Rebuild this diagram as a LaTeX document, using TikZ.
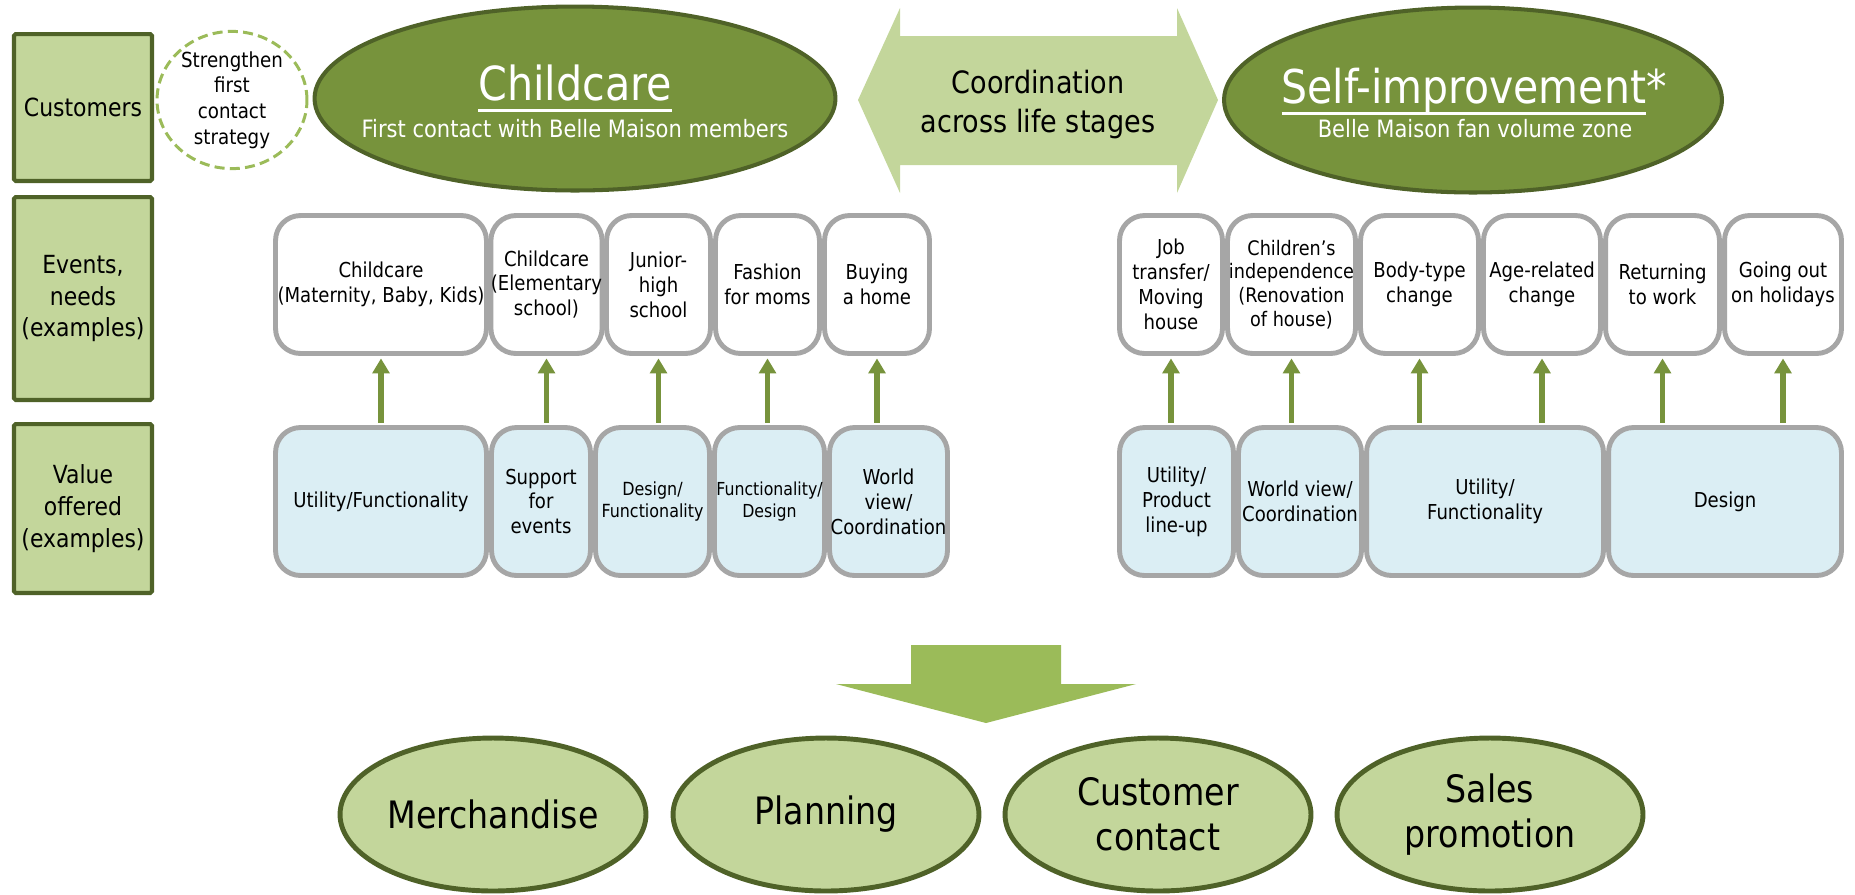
\documentclass[tikz,border=0pt]{standalone}
\usepackage{fontspec}
\setmainfont{DejaVu Sans}[FakeStretch=0.88]
\usetikzlibrary{shapes.geometric}
\usetikzlibrary{arrows.meta}

\definecolor{olivedark}{HTML}{4F6228}
\definecolor{olivemid}{HTML}{77933C}
\definecolor{olivelight}{HTML}{C3D69B}
\definecolor{olivebright}{HTML}{9BBB59}
\definecolor{boxgray}{HTML}{A6A6A6}
\definecolor{paleblue}{HTML}{DBEEF4}

\newcommand{\fs}[2]{\fontsize{#1}{#2}\selectfont}
\newcommand{\ulbar}[1]{\setbox0\hbox{#1}\rlap{\rule[-0.25em]{\wd0}{0.065em}}\box0}

\begin{document}
\begin{tikzpicture}[x=0.02cm, y=-0.02cm,
  rowlabel/.style={draw=olivedark, fill=olivelight, line width=2.3pt, rounded corners=1pt,
    inner sep=0, align=center, minimum width=2.76cm, font=\fs{14.2}{18.2}},
  evbox/.style={draw=boxgray, fill=white, line width=2.8pt, rounded corners=0.5cm,
    inner sep=0, align=center, minimum height=2.76cm, font=\fs{11.7}{14.2}},
  valbox/.style={evbox, fill=paleblue, minimum height=2.96cm},
  norm/.style={},
  smaller/.style={font=\fs{10.2}{12.5}},
  tiny/.style={font=\fs{10.3}{12.5}},
  tight/.style={font=\fs{11.4}{13.5}},
  bigoval/.style={ellipse, draw=olivedark, fill=olivemid, line width=2.3pt, inner sep=0},
  endoval/.style={ellipse, draw=olivedark, fill=olivelight, line width=2.8pt, inner sep=0,
    align=center, minimum width=6.12cm, minimum height=3.06cm, font=\fs{21.5}{25.6}},
  uparrow/.style={draw=olivemid, line width=3pt, shorten <=1.4pt, shorten >=1.4pt,
    -{Triangle[width=9.5pt,length=8.5pt]}}]
\useasboundingbox (0,0) rectangle (1855,894);

% row labels
\foreach \n/\y/\h/\t in {cust/107.5/2.94/{Customers},
    evlab/298.5/4.06/{Events,\\needs\\(examples)},
    vallab/508.5/3.38/{Value\\offered\\(examples)}}
  \node[rowlabel, minimum height=\h cm] (\n) at (83,\y) {\t};

\node[draw=olivebright, fill=white, line width=1.7pt, dash pattern=on 5.7pt off 3pt,
  ellipse, minimum width=3cm, minimum height=2.56cm, inner sep=0, align=center,
  font=\fs{11.8}{14.6}] (first) at (232,100) {Strengthen\\first\\contact\\strategy};

% the two customer groups
\node[bigoval, minimum width=10.42cm, minimum height=3.68cm] (childcare) at (575,98.5) {};
\node[anchor=base, text=white, font=\fs{26.7}{30}] (childtitle) at (575,100) {\ulbar{Childcare}};
\node[anchor=base, text=white, font=\fs{13.6}{16}] (childsub) at (575,137) {First contact with Belle Maison members};

\node[bigoval, minimum width=9.96cm, minimum height=3.7cm] (selfimp) at (1473,100) {};
\node[anchor=base, text=white, font=\fs{26.5}{30}] (selftitle) at (1474,103) {\ulbar{Self-improvement}*};
\node[anchor=base, text=white, font=\fs{13.6}{16}] (selfsub) at (1475,137) {Belle Maison fan volume zone};

\fill[olivelight] (858,100) -- (900,8) -- (900,36) -- (1177,36) -- (1177,8) -- (1218,100)
  -- (1177,193) -- (1177,165) -- (900,165) -- (900,193) -- cycle;
\node[align=center, inner sep=0, font=\fs{17.5}{22.2}] (coord) at (1038,104.5) {Coordination\\across life stages};

% events and needs
\foreach \n/\l/\r/\s/\t in {ea/273/489/norm/{Childcare\\(Maternity, Baby, Kids)},
    eb/489/604/norm/{Childcare\\(Elementary\\school)},
    ec/604/713/norm/{Junior-\\high\\school},
    ed/713/822/norm/{Fashion\\for moms},
    ee/822/932/norm/{Buying\\a home},
    ef/1117/1225/norm/{Job\\transfer/\\Moving\\house},
    eg/1225/1358/tight/{Children’s\\independence\\(Renovation\\of house)},
    eh/1358/1481/norm/{Body-type\\change},
    ei/1481/1603/norm/{Age-related\\change},
    ej/1603/1722/norm/{Returning\\to work},
    ek/1722/1844/norm/{Going out\\on holidays}}
  \node[evbox, \s, minimum width={(\r-\l-5)*0.569pt}] (\n) at ({(\l+\r)/2},284.5) {\t};

% value offered
\foreach \n/\l/\r/\s/\t in {va/273/489/norm/{Utility/Functionality},
    vb/489/593/norm/{Support\\for\\events},
    vc/593/712/tiny/{Design/\\Functionality},
    vd/712/827/smaller/{Functionality/\\Design},
    ve/827/950/norm/{World\\view/\\Coordination},
    vf/1117/1236/norm/{Utility/\\Product\\line-up},
    vg/1236/1364/norm/{World view/\\Coordination},
    vh/1364/1606/norm/{Utility/\\Functionality},
    vi/1606/1844/norm/{Design}}
  \node[valbox, \s, minimum width={(\r-\l-5)*0.569pt}] (\n) at ({(\l+\r)/2},501.5) {\t};

\foreach \e/\v in {ea/va, eb/vb, ec/vc, ed/vd, ee/ve, ef/vf, eg/vg, eh/vh, ei/vh, ej/vi, ek/vi}
  \draw[uparrow] (\e.south |- \v.north) -- (\e.south);

% down to the four functions
\fill[olivebright] (911,645) -- (1061,645) -- (1061,684) -- (1136,684) -- (986,723)
  -- (836,684) -- (911,684) -- cycle;
\foreach \n/\x/\t in {merch/493/{Merchandise}, plan/826/{Planning},
    contact/1158/{Customer\\contact}, promo/1490/{Sales\\promotion}}
  \node[endoval] (\n) at (\x,814.5) {\t};
\end{tikzpicture}
\end{document}
